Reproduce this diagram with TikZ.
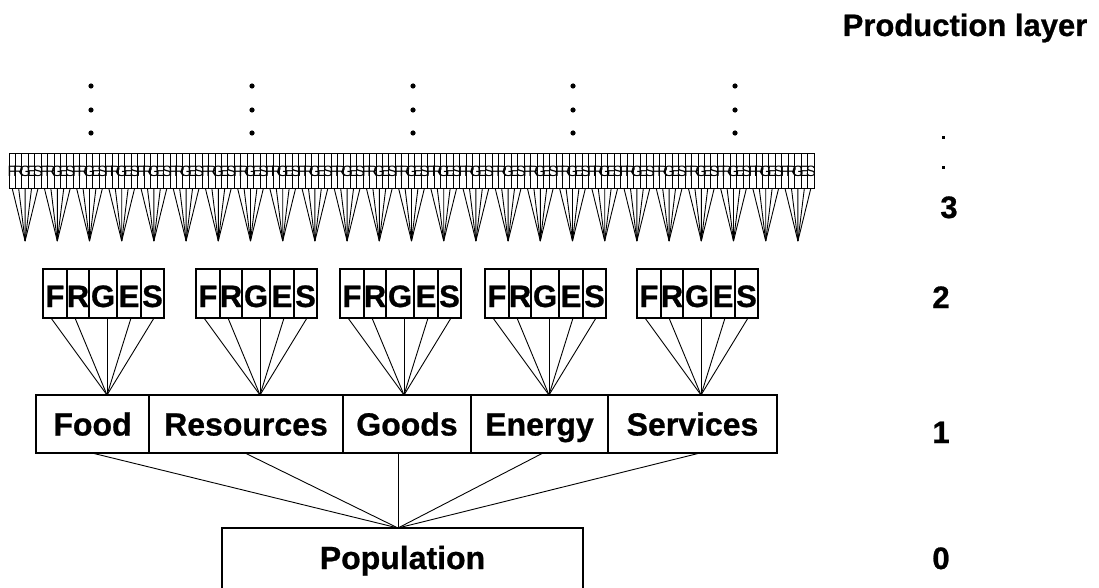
\documentclass[tikz,border=0pt]{standalone}
\usepackage{fontspec}
\setmainfont{Liberation Sans}[BoldFeatures={FakeBold=0.8}]
\usetikzlibrary{calc}
\begin{document}
\begin{tikzpicture}[x=1pt,y=-1pt,
  big/.style={font=\fontsize{32}{32}\selectfont\bfseries},
  lone/.style={draw,line width=1.5pt,inner sep=0pt,minimum height=58pt,text height=23pt,text depth=0pt,big},
  ltwo/.style={draw,line width=1.2pt,inner sep=0pt,minimum height=49pt,text height=27pt,text depth=0pt,font=\fontsize{31}{31}\selectfont\bfseries},
  lthree/.style={draw,line width=1pt,inner sep=0pt,minimum width=6.44pt,minimum height=34pt,font=\fontsize{15}{15}\selectfont},
  fan/.style={line width=0.9pt},
  lab/.style={font=\fontsize{31}{31}\selectfont\bfseries,inner sep=0pt,text height=22pt,text depth=0pt}]
\useasboundingbox (0,0) rectangle (1099,588);

% dots above layer 3
\foreach \x in {91,252,413,573,735}
  \foreach \y in {86,110,133}
    \fill (\x,\y) circle (2.6);

% layer 3
\foreach \i in {0,...,24}{
  \coordinate (t\i) at ({9+32.2*(\i+0.5)},241);
  \foreach \L [count=\j from 0] in {F,R,G,E,S}{
    \node[lthree] (t\i-\j) at ({9+32.2*\i+6.44*(\j+0.5)},171) {\makebox[0pt]{\L}};
    \draw[fan] (t\i-\j.south) -- (t\i);
  }
}

% layer 1
\foreach \n/\t/\a/\b in {food/Food/36/149, res/Resources/149/343, goods/Goods/343/471, energy/Energy/471/608, serv/Services/608/777}
  \node[lone, minimum width={(\b-\a)*1pt}] (\n) at ({(\a+\b)/2},424) {\t};

% layer 2
\foreach \g/\l in {1/43, 2/196, 3/340, 4/485, 5/637}{
  \coordinate (a\g) at ({\l+64},395);
  \foreach \L/\o/\w/\s [count=\j] in {F/0/24/8, R/24/22/32, G/46/28/64, E/74/24/88, S/98/23/111}{
    \node[ltwo, minimum width={\w*1pt}] (m\g-\j) at ({\l+\o+\w/2},293.5) {\L};
    \coordinate (m\g-\j s) at ({\l+\s},318);
    \draw[fan] (m\g-\j s) -- (a\g);
  }
}

% population (its lower edge lies below the page)
\node[inner sep=0pt,minimum width=361pt,minimum height=68pt,text height=22pt,text depth=8pt,big] (pop) at (402.5,562) {Population};
\draw[line width=1.5pt] (pop.south west) -- (pop.north west) -- (pop.north east) -- (pop.south east);
\coordinate (papex) at (398,528);
\coordinate (p1) at (92,453);
\coordinate (p2) at (245,453);
\coordinate (p3) at (398,453);
\coordinate (p4) at (543,453);
\coordinate (p5) at (700,453);
\foreach \k in {1,...,5} \draw[fan] (p\k) -- (papex);

% right labels
\node[lab] (title) at (965,25) {Production layer};
\fill (941.5,136.5) rectangle (944.5,139.5);
\fill (941.5,166.5) rectangle (944.5,169.5);
\node[lab] (n3) at (949,207) {3};
\node[lab] (n2) at (941,297) {2};
\node[lab] (n1) at (941,432) {1};
\node[lab] (n0) at (941,558) {0};
\end{tikzpicture}
\end{document}
